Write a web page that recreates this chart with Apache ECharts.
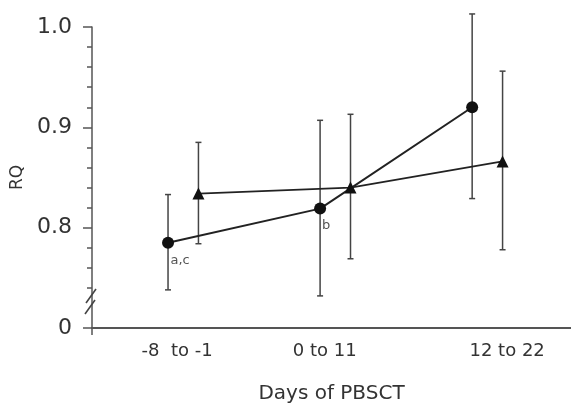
<!DOCTYPE html>
<html>
<head>
<meta charset="utf-8">
<script src="https://cdn.jsdelivr.net/npm/echarts@6/dist/echarts.min.js"></script>
<style>
  html, body { margin: 0; padding: 0; background: #fff; }
  #chart { width: 571px; height: 405px; }
</style>
</head>
<body>
<div id="chart"></div>
<script>
// groups of days and where their labels sit on the x scale
var groups = ['-8  to -1', '0 to 11', '12 to 22'];
var labelPos = [0.56, 1.53, 2.73];

// circle series (mean, error bar low / high)
var circleX = [0.5, 1.5, 2.5];
var circleMean = [0.785, 0.819, 0.920];
var circleLow = [0.738, 0.732, 0.829];
var circleHigh = [0.833, 0.907, 1.013];
var circleNotes = ['a,c', 'b', ''];

// triangle series
var triX = [0.7, 1.7, 2.7];
var triMean = [0.834, 0.840, 0.866];
var triLow = [0.784, 0.769, 0.778];
var triHigh = [0.885, 0.913, 0.956];

// y ticks; the bottom one (0.7) is shown as 0 past the axis break
var yMajor = [0.7, 0.8, 0.9, 1.0];
var yMinor = [0.74, 0.76, 0.78, 0.82, 0.84, 0.86, 0.88, 0.92, 0.94, 0.96, 0.98];
var breakAt = 0.72;

var font = 'DejaVu Sans';
var ink = '#333';

function pairs(xs, ys) {
    var out = [];
    for (var i = 0; i < xs.length; i++) out.push([xs[i], ys[i]]);
    return out;
}

function bars(xs, lo, hi) {
    var out = [];
    for (var i = 0; i < xs.length; i++) out.push([xs[i], lo[i], hi[i]]);
    return out;
}

function errorBar(params, api) {
    var top = api.coord([api.value(0), api.value(2)]);
    var bot = api.coord([api.value(0), api.value(1)]);
    var cap = 3;
    var style = { stroke: '#444', lineWidth: 1.5 };
    return {
        type: 'group',
        children: [
            { type: 'line', shape: { x1: top[0], y1: top[1], x2: bot[0], y2: bot[1] }, style: style },
            { type: 'line', shape: { x1: top[0] - cap, y1: top[1], x2: top[0] + cap, y2: top[1] }, style: style },
            { type: 'line', shape: { x1: bot[0] - cap, y1: bot[1], x2: bot[0] + cap, y2: bot[1] }, style: style }
        ]
    };
}

var circleData = pairs(circleX, circleMean).map(function (p, i) {
    var item = { value: p };
    if (circleNotes[i]) {
        item.label = {
            show: true, formatter: circleNotes[i], position: 'bottom',
            offset: [i == 0 ? 12 : 6, 0], fontSize: 13, fontFamily: font, color: '#555'
        };
    }
    return item;
});

var chart = echarts.init(document.getElementById('chart'));

var option = {
    animation: false,
    grid: { left: 92, right: 0, top: 27, bottom: 77, containLabel: false, outerBoundsMode: 'none' },
    xAxis: {
        type: 'value', min: 0, max: 3.15,
        name: 'Days of PBSCT', nameLocation: 'middle', nameGap: 56,
        nameTextStyle: { fontFamily: font, fontSize: 20, color: ink },
        splitLine: { show: false },
        axisLine: { lineStyle: { color: '#555', width: 2 } },
        axisTick: { customValues: [0], length: 7, lineStyle: { color: '#555', width: 1.5 } },
        axisLabel: {
            customValues: labelPos, fontFamily: font, fontSize: 18, color: ink, margin: 14,
            formatter: function (v) {
                var best = 0;
                for (var i = 1; i < labelPos.length; i++) {
                    if (Math.abs(labelPos[i] - v) < Math.abs(labelPos[best] - v)) best = i;
                }
                return groups[best];
            }
        }
    },
    yAxis: [{
        type: 'value', min: 0.7, max: 1.0,
        name: 'RQ', nameLocation: 'middle', nameGap: 59, nameRotate: 90,
        nameTextStyle: { fontFamily: font, fontSize: 17, color: ink },
        splitLine: { show: false },
        axisLine: { show: true, lineStyle: { color: '#555', width: 1.5 } },
        axisTick: { customValues: yMajor, length: 9, lineStyle: { color: '#555', width: 1.5 } },
        axisLabel: {
            customValues: yMajor, fontFamily: font, fontSize: 22, color: ink, margin: 20,
            formatter: function (v) { return v < 0.75 ? '0' : v.toFixed(1); }
        }
    }, {
        type: 'value', min: 0.7, max: 1.0, position: 'left',
        splitLine: { show: false },
        axisLine: { show: false },
        axisLabel: { show: false },
        axisTick: { customValues: yMinor, length: 5, lineStyle: { color: '#555', width: 1.5 } }
    }],
    series: [
        {
            type: 'custom', renderItem: errorBar, clip: false, z: 1,
            encode: { x: 0, y: [1, 2] },
            data: bars(circleX, circleLow, circleHigh)
        },
        {
            type: 'custom', renderItem: errorBar, clip: false, z: 1,
            encode: { x: 0, y: [1, 2] },
            data: bars(triX, triLow, triHigh)
        },
        {
            type: 'line', data: circleData, z: 3,
            symbol: 'circle', symbolSize: 12,
            lineStyle: { color: '#222', width: 2 },
            itemStyle: { color: '#111' }
        },
        {
            type: 'line', data: pairs(triX, triMean), z: 3,
            symbol: 'triangle', symbolSize: 12,
            lineStyle: { color: '#222', width: 1.8 },
            itemStyle: { color: '#111' }
        }
    ]
};

chart.setOption(option);

// axis break marks "//" drawn across the y axis
var bp = chart.convertToPixel({ gridIndex: 0 }, [0, breakAt]);
var slash = { stroke: '#444', lineWidth: 1.6 };
chart.setOption({
    graphic: [
        { type: 'line', z: 10, shape: { x1: bp[0] - 6, y1: bp[1] - 5, x2: bp[0] + 4, y2: bp[1] - 19 }, style: slash },
        { type: 'line', z: 10, shape: { x1: bp[0] - 7, y1: bp[1] + 6, x2: bp[0] + 3, y2: bp[1] - 8 }, style: slash }
    ]
});
</script>
</body>
</html>
